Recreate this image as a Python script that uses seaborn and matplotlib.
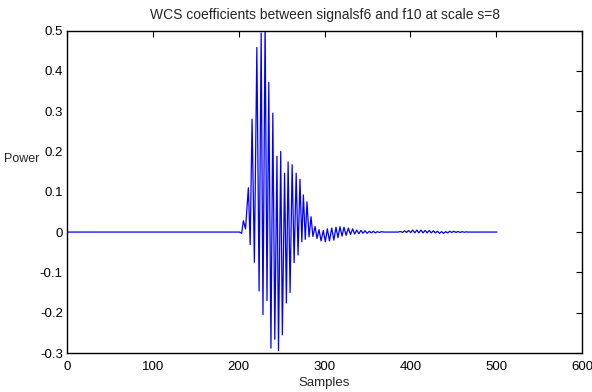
import seaborn as sns
import matplotlib
matplotlib.use("Agg")
import matplotlib.pyplot as plt
import matplotlib.ticker as mticker
import pandas as pd

# sample positions and values of the WCS curve
# (flat zero parts plus the peaks / troughs of the oscillation)
samples = [0, 201, 203.5, 205.5, 208.0,
           211.3, 213.4, 215.6, 218.3, 221.2, 223.8, 226.2, 228.3, 230.8, 233.0,
           235.1, 237.6, 239.8, 242.1, 244.6, 246.4, 249.0, 250.9, 253.5, 255.6,
           257.6, 259.9, 262.3, 264.6, 267.0, 269.2, 271.4, 273.6, 275.4, 277.6,
           279.6, 282.0, 284.3, 286.5, 289.0, 291.3, 293.6, 296.0, 298.6, 301.0,
           303.3, 305.8, 308.4, 310.9, 313.4, 315.7, 318.0, 320.4, 322.7, 325.2,
           327.8, 330.3, 332.8, 335.2, 337.5, 340.0, 342.5, 344.8, 347.2, 349.7,
           352.2, 354.5, 356.9, 359.2, 361.5, 364.0, 366.5, 369.0,
           386.0, 388.4, 390.8, 393.2, 395.6, 398.0, 400.4, 402.8, 405.2, 407.6,
           410.0, 412.4, 414.8, 417.2, 419.6, 422.0, 424.4, 426.8, 429.2, 431.6,
           434.0, 436.4, 438.8, 441.2, 443.6, 446.0, 448.4, 450.8, 453.2, 455.6,
           458.0, 460.4, 462.8, 465.2, 467.0, 501]

power = [0, 0, -0.003, 0.028, 0.008,
         0.11, -0.031, 0.28, -0.075, 0.458, -0.146, 0.494, -0.205, 0.52, -0.17,
         0.371, -0.288, 0.295, -0.266, 0.188, -0.294, 0.2, -0.255, 0.146, -0.176,
         0.174, -0.15, 0.167, -0.076, 0.146, -0.057, 0.131, -0.024, 0.092, -0.018,
         0.075, -0.012, 0.038, -0.011, 0.014, -0.016, 0.006, -0.022, 0.004, -0.024,
         0.008, -0.022, 0.010, -0.020, 0.012, -0.014, 0.013, -0.010, 0.012, -0.008,
         0.010, -0.006, 0.008, -0.005, 0.005, -0.004, 0.004, -0.003, 0.003, -0.003,
         0.002, -0.002, 0.002, -0.002, 0.001, -0.001, 0.001, 0,
         0, 0.0015, -0.001, 0.003, -0.001, 0.004, -0.0015, 0.005, -0.002, 0.005,
         -0.002, 0.005, -0.002, 0.004, -0.002, 0.004, -0.002, 0.003, -0.002, 0.002,
         -0.003, 0.001, -0.003, 0.001, -0.002, 0.002, -0.001, 0.002, -0.001, 0.0015,
         -0.001, 0.001, -0.0005, 0.0005, 0, 0]

x_ticks = [0, 100, 200, 300, 400, 500, 600]
y_ticks = [-0.3, -0.2, -0.1, 0, 0.1, 0.2, 0.3, 0.4, 0.5]

df = pd.DataFrame({"Samples": samples, "Power": power})

sns.set_style("white")
plt.rcParams["font.family"] = ["Liberation Sans", "DejaVu Sans"]
plt.rcParams["axes.unicode_minus"] = False

fig = plt.figure(figsize=(5.92, 3.92), dpi=100)
ax = fig.add_axes([67 / 592, 1 - 353 / 392, 515 / 592, 322.5 / 392])

sns.lineplot(data=df, x="Samples", y="Power", ax=ax, color="#0000ff",
             linewidth=0.9, sort=False, estimator=None)

ax.set_xlim(0, 600)
ax.set_ylim(-0.3, 0.5)
ax.set_xticks(x_ticks)
ax.set_yticks(y_ticks)
ax.yaxis.set_major_formatter(mticker.FormatStrFormatter("%g"))
ax.tick_params(direction="in", length=4, width=0.8, top=True, right=True,
               labelsize=9.5, colors="black")
ax.tick_params(axis="x", pad=6)
ax.tick_params(axis="y", pad=3)
for side in ax.spines.values():
    side.set_color("black")
    side.set_linewidth(1.0)

ax.set_xlabel("Samples", fontsize=9.5, labelpad=2.5)
ax.set_ylabel("")
fig.text(22 / 592, 1 - 159 / 392, "Power", fontsize=9, ha="center", va="center")
ax.set_title("WCS coefficients between signalsf6 and f10 at scale s=8",
             fontsize=10, pad=8)

fig.savefig("out.png", dpi=100)
